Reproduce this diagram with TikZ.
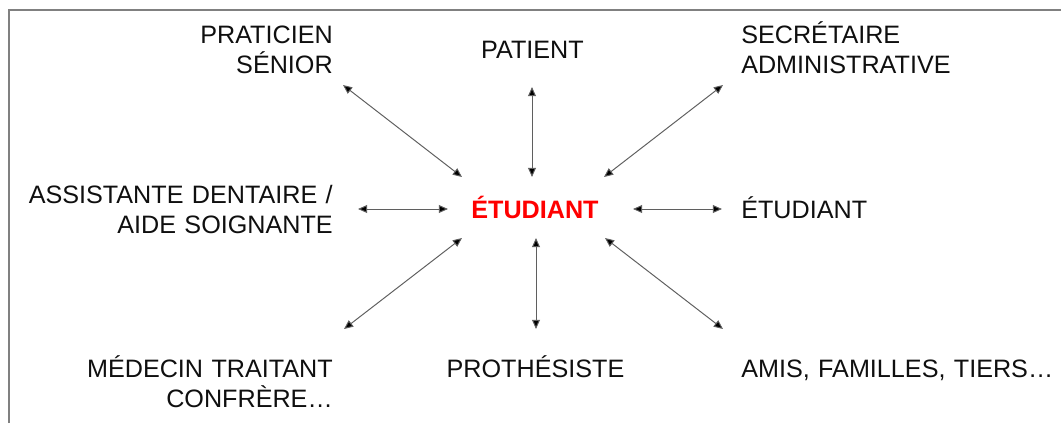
\documentclass[tikz,border=0pt]{standalone}
\usepackage{fontspec}
\setmainfont{Liberation Sans}
\usepackage{tikz}
\usetikzlibrary{arrows.meta}

\definecolor{framegray}{RGB}{128,128,128}
\definecolor{linkgray}{RGB}{95,95,95}
\definecolor{txtblack}{RGB}{15,15,15}
\definecolor{etudred}{RGB}{255,0,0}

\tikzset{
  label/.style={inner sep=0pt, text=txtblack,
    font=\fontsize{17.9}{22}\selectfont},
  labelR/.style={label, text width=9cm, align=right, anchor=base east},
  labelL/.style={label, text width=9cm, align=left, anchor=base west},
  link/.style={draw=linkgray, line width=0.7pt,
    {Triangle[length=6.5pt,width=5.6pt,fill=black]}-{Triangle[length=6.5pt,width=5.6pt,fill=black]}}
}

\begin{document}
\begin{tikzpicture}[x=0.025cm, y=-0.025cm]

  \useasboundingbox (0,0) rectangle (1061,423);

  % Draw the frame
  \draw[framegray, line width=1.4pt] (9,423) -- (9,10) -- (1061,10);

  % Centre node
  \node[label, anchor=base, text=etudred, font=\fontsize{17.9}{22}\selectfont\bfseries]
    (etud) at (535,218) {ÉTUDIANT};

  % Top row
  \node[labelR] (prat) at (333,43) {PRATICIEN\\SÉNIOR};
  \node[label, anchor=base] (pat) at (532.5,58) {PATIENT};
  \node[labelL] (secr) at (741,43) {SECRÉTAIRE\\ADMINISTRATIVE};

  % Middle row
  \node[labelR] (assist) at (333,203) {ASSISTANTE DENTAIRE /\\AIDE SOIGNANTE};
  \node[labelL] (etudB) at (741,218) {ÉTUDIANT};

  % Bottom row
  \node[labelR] (med) at (333,377) {MÉDECIN TRAITANT\\CONFRÈRE…};
  \node[label, anchor=base] (proth) at (535.5,377) {PROTHÉSISTE};
  \node[labelL] (amis) at (741,377) {AMIS, FAMILLES, TIERS…};

  % Ends of the arrows
  \coordinate (pratEnd) at (343,85);   \coordinate (pratHub) at (462,177);
  \coordinate (patEnd) at (532,87);    \coordinate (patHub) at (532,177);
  \coordinate (secrEnd) at (723,85);   \coordinate (secrHub) at (604,177);
  \coordinate (assistEnd) at (358,209); \coordinate (assistHub) at (448,209);
  \coordinate (etudBEnd) at (722,209); \coordinate (etudBHub) at (633,209);
  \coordinate (medEnd) at (344,329);   \coordinate (medHub) at (462,238);
  \coordinate (prothEnd) at (536,329); \coordinate (prothHub) at (536,238);
  \coordinate (amisEnd) at (723,329);  \coordinate (amisHub) at (605,238);

  % Draw the double arrows
  \draw[link] (pratEnd) -- (pratHub);
  \draw[link] (patEnd) -- (patHub);
  \draw[link] (secrEnd) -- (secrHub);
  \draw[link] (assistEnd) -- (assistHub);
  \draw[link] (etudBHub) -- (etudBEnd);
  \draw[link] (medHub) -- (medEnd);
  \draw[link] (prothHub) -- (prothEnd);
  \draw[link] (amisHub) -- (amisEnd);

\end{tikzpicture}
\end{document}
